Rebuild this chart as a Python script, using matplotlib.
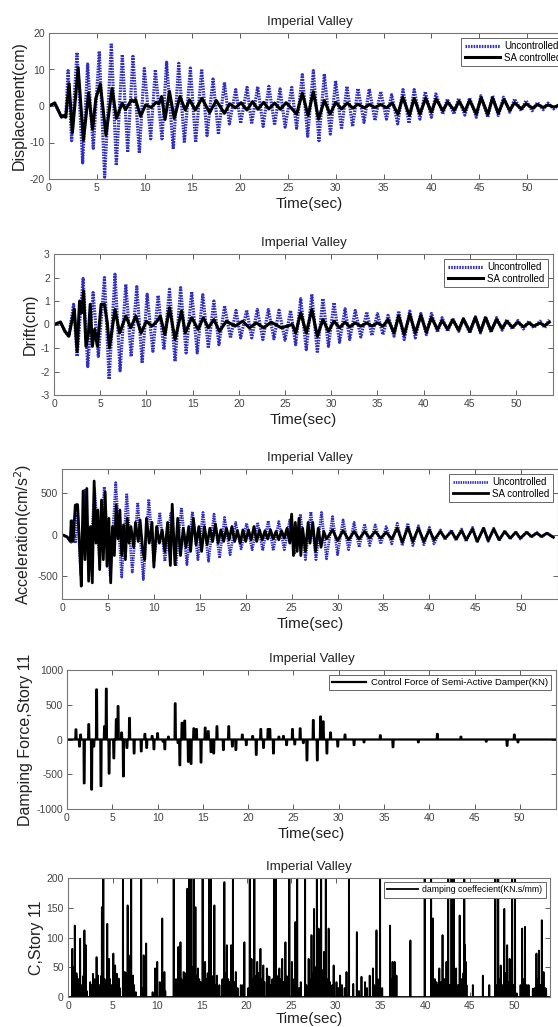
import numpy as np
import matplotlib
matplotlib.use("Agg")
import matplotlib.pyplot as plt

plt.rcParams['font.family'] = ['Liberation Sans', 'DejaVu Sans']
plt.rcParams['axes.unicode_minus'] = False

# ---- displacement (cm), peaks/troughs of the response ----
disp_unc_t = [0, 0.6, 1.3, 1.5, 1.75, 2.0, 2.37, 2.93, 3.52, 4.04, 4.63, 5.26, 5.82, 6.52, 7.04,
              7.67, 8.23, 8.78, 9.45, 9.97, 10.64, 11.12, 11.82, 12.3, 13.0, 13.57, 14.16, 14.79,
              15.34, 15.97, 16.53, 17.16, 17.72, 18.35, 18.87, 19.53, 20.05, 20.72, 21.2, 21.83,
              22.4, 23.0, 23.6, 24.17, 24.7, 25.39, 25.9, 26.5, 27.06, 27.65, 28.24, 28.8, 29.43,
              29.98, 30.6, 31.17, 31.76, 32.32, 32.95, 33.5, 34.1, 34.7, 35.3, 35.84, 36.47, 37.03,
              37.66, 38.2, 38.8, 39.36, 40.0, 40.47, 41.2, 41.66, 42.36, 42.85, 43.5, 44.0, 44.7,
              45.18, 45.9, 46.4, 47.0, 47.55, 48.2, 48.7, 49.4, 49.9, 50.55, 51.1, 51.7, 52.2,
              52.8, 53.4, 54.0]
disp_unc = [0, 0.8, -3.0, -2.7, -3.2, 9.7, -9.5, 14.7, -15.6, 11.5, -11.6, 15.0, -19.5, 17.2, -16.3,
            14.1, -12.7, 13.6, -12.9, 10.3, -9.0, 9.9, -9.0, 12.0, -11.8, 11.7, -10.1, 10.4,
            -10.0, 10.1, -8.1, 7.4, -7.7, 6.5, -4.9, 4.5, -4.7, 5.1, -4.9, 5.3,
            -5.6, 5.4, -5.2, 4.7, -5.8, 5.1, -6.1, 8.6, -8.3, 9.7, -9.5, 8.8, -7.7,
            6.9, -6.3, 5.4, -5.6, 4.8, -4.5, 4.7, -4.0, 4.0, -3.6, 3.1, -4.9, 4.5,
            -4.7, 4.5, -3.6, 3.9, -3.1, 3.3, -2.2, 1.9, -2.2, 2.1, -2.5, 2.2, -3.1,
            2.8, -3.1, 2.8, -2.6, 2.4, -1.7, 1.9, -1.3, 1.5, -1.3, 1.0, -1.0, 0.8,
            -0.8, 0.5, -0.5]

disp_sa_t = [0, 0.6, 1.3, 1.5, 1.75, 2.1, 2.45, 3.05, 3.6, 4.14, 4.56, 4.9, 5.37, 5.96, 6.6, 7.05,
             7.65, 8.0, 8.63, 8.85, 9.05, 9.58, 10.1, 10.7, 11.2, 11.5, 11.78, 12.14, 12.6, 13.1,
             13.7, 14.25, 14.7, 15.3, 16.0, 16.8, 17.5, 18.35, 18.9, 19.5, 20.1, 20.7, 21.3,
             21.85, 22.45, 23.0, 23.6, 24.2, 24.8, 25.35, 25.9, 26.5, 27.1, 27.65, 28.2, 28.8,
             29.4, 30.0, 30.6, 31.2, 31.8, 32.3, 33.0, 33.5, 34.1, 34.7, 35.3, 35.9, 36.5, 37.0,
             37.7, 38.2, 38.8, 39.4, 40.0, 40.5, 41.2, 41.7, 42.4, 42.9, 43.5, 44.0, 44.7, 45.2,
             45.9, 46.4, 47.0, 47.6, 48.2, 48.7, 49.4, 49.9, 50.6, 51.1, 51.7, 52.2, 52.8, 53.4,
             54.0]
disp_sa = [0, 0.8, -3.0, -2.6, -3.1, 6.1, -7.3, 10.5, -9.4, 3.6, -6.4, 2.1, 6.0, -8.0, 4.8, -3.4,
           0.8, -1.0, 1.7, 1.2, 1.8, -2.8, 0.3, -0.4, 1.0, 0.6, 2.6, -3.7, 4.0, -3.4,
           2.6, -1.1, 1.7, -1.1, 2.1, -1.8, 1.5, -2.0, 0.6, -0.5, 0.9, -1.1, 1.2,
           -0.9, 1.0, -0.8, 0.8, -0.9, 0.9, -0.6, -2.2, 3.5, -2.6, 3.9, -3.6, 1.5,
           -2.2, 1.0, -0.8, 0.8, -0.6, 0.5, -0.5, 0.4, -0.4, 0.4, -0.5, 0.8, -2.2, 2.4,
           -2.6, 2.1, -2.2, 2.1, -1.7, 1.9, -1.3, 1.1, -1.2, 1.3, -1.5, 1.6, -2.2, 2.3,
           -2.3, 2.2, -2.0, 1.8, -1.2, 0.9, -0.8, 0.6, -0.6, 0.4, -0.4, 0.3, -0.3, 0.2,
           -0.2]

# ---- inter-storey drift (cm) ----
drift_unc_t = [0, 0.7, 1.2, 1.6, 2.12, 2.5, 3.15, 3.65, 4.23, 4.8, 5.46, 5.96, 6.6, 7.15, 7.77,
               8.35, 8.96, 9.54, 10.08, 10.7, 11.27, 11.9, 12.5, 13.1, 13.7, 14.3, 14.9, 15.5,
               16.1, 16.7, 17.3, 17.85, 18.46, 19.1, 19.7, 20.2, 20.85, 21.4, 22.0, 22.6, 23.2,
               23.8, 24.35, 25.0, 25.6, 26.15, 26.7, 27.3, 27.9, 28.5, 29.1, 29.7, 30.3, 30.9,
               31.5, 32.0, 32.6, 33.2, 33.85, 34.4, 35.0, 35.6, 36.15, 36.8, 37.3, 37.9, 38.5,
               39.1, 39.7, 40.3, 40.85, 41.5, 42.0, 42.6, 43.15, 43.8, 44.3, 45.0, 45.6, 46.15,
               46.7, 47.3, 47.9, 48.5, 49.0, 49.6, 50.2, 50.8, 51.4, 51.9, 52.6, 53.1, 53.6]
drift_unc = [0, 0.1, -0.3, -0.5, 0.86, -1.36, 1.96, -1.79, 1.36, -1.36, 2.0, -2.33, 2.14, -1.97, 1.71,
             -1.36, 1.61, -1.64, 1.29, -1.14, 1.24, -1.07, 1.5, -1.57, 1.57, -1.21, 1.39, -1.21,
             1.27, -1.0, 1.0, -0.86, 0.79, -0.57, 0.6, -0.57, 0.61, -0.57, 0.64, -0.64, 0.64,
             -0.61, 0.61, -0.67, 0.6, -0.86, 1.1, -1.07, 1.29, -1.21, 1.1, -0.93, 0.93, -0.76,
             0.67, -0.64, 0.6, -0.53, 0.53, -0.47, 0.46, -0.43, 0.39, -0.5, 0.57, -0.64, 0.57,
             -0.57, 0.47, -0.43, 0.47, -0.33, 0.29, -0.29, 0.26, -0.29, 0.24, -0.36, 0.33, -0.36,
             0.33, -0.33, 0.29, -0.24, 0.21, -0.19, 0.17, -0.19, 0.14, -0.14, 0.14, -0.14, 0.2]

drift_sa_t = [0, 0.7, 1.2, 1.6, 2.2, 2.5, 2.77, 3.0, 3.2, 3.46, 3.73, 3.92, 4.15, 4.4, 4.7, 5.1,
              5.46, 5.77, 6.0, 6.6, 7.1, 7.77, 8.3, 8.85, 9.42, 10.0, 10.6, 11.15, 11.5, 12.0,
              12.5, 13.1, 13.8, 14.2, 14.9, 15.6, 16.15, 16.7, 17.3, 17.9, 18.65, 19.6, 20.4,
              21.15, 21.9, 22.7, 23.5, 24.6, 25.8, 26.15, 26.7, 27.3, 27.9, 28.5, 29.1, 29.7,
              30.3, 30.9, 31.5, 32.0, 32.6, 33.2, 33.85, 34.4, 35.0, 35.6, 36.15, 36.8, 37.3,
              37.9, 38.5, 39.1, 39.7, 40.3, 40.85, 41.5, 42.0, 42.6, 43.15, 43.8, 44.3, 45.0,
              45.6, 46.15, 46.7, 47.3, 47.9, 48.5, 49.0, 49.6, 50.2, 50.8, 51.4, 51.9, 52.6,
              53.1, 53.6]
drift_sa = [0, 0.1, -0.3, -0.5, 0.65, -1.15, 1.0, 0.5, 1.43, -0.93, -0.36, 0.86, -0.93, -0.2, -0.93, 0.86,
            0.86, 0.07, -1.0, 0.64, -0.36, 0.36, -0.14, 0.36, -0.36, 0.14, -0.07, 0.14, 0.36, -0.43,
            0.71, -0.64, 0.57, -0.36, 0.29, -0.21, 0.29, -0.14, 0.21, -0.29, 0.14, -0.07, 0.14,
            -0.14, 0.07, -0.14, 0.1, -0.14, 0.0, -0.36, 0.5, -0.36, 0.64, -0.5, 0.21, -0.29,
            0.14, -0.14, 0.1, -0.1, 0.07, -0.07, 0.07, -0.07, 0.07, -0.07, 0.21, -0.36, 0.36,
            -0.43, 0.43, -0.36, 0.39, -0.33, 0.29, -0.21, 0.17, -0.2, 0.2, -0.24, 0.24, -0.3,
            0.3, -0.3, 0.29, -0.27, 0.21, -0.17, 0.14, -0.12, 0.1, -0.1, 0.07, -0.07, 0.06,
            -0.05, 0.1]

# ---- absolute acceleration (cm/s^2) ----
acc_unc_t = [0, 0.6, 1.0, 1.2, 1.45, 1.65, 2.05, 2.5, 3.0, 3.55, 4.1, 4.6, 5.25, 5.85, 6.5, 7.05,
             7.65, 8.25, 8.85, 9.45, 10.0, 10.65, 11.2, 11.85, 12.4, 13.0, 13.6, 14.2, 14.8, 15.35,
             15.95, 16.55, 17.15, 17.7, 18.3, 18.9, 19.5, 20.1, 20.7, 21.3, 21.85, 22.45, 23.0,
             23.6, 24.2, 24.8, 25.35, 25.95, 26.5, 27.1, 27.65, 28.25, 28.8, 29.45, 30.0, 30.6,
             31.2, 31.8, 32.35, 32.95, 33.5, 34.1, 34.7, 35.3, 35.9, 36.5, 37.05, 37.65, 38.2,
             38.8, 39.4, 40.0, 40.5, 41.2, 41.7, 42.4, 42.9, 43.5, 44.0, 44.7, 45.2, 45.9, 46.4,
             47.0, 47.6, 48.2, 48.8, 49.4, 49.9, 50.6, 51.1, 51.7, 52.2, 52.8, 53.5]
acc_unc = [0, -30, -90, 170, -100, 370, -480, 540, -420, 560, -320, 580, -500, 630, -510, 500,
           -450, 390, -540, 430, -320, 270, -320, 260, -380, 330, -360, 280, -300, 270,
           -320, 250, -280, 210, -240, 150, -170, 140, -180, 150, -190, 170, -190,
           160, -180, 180, -220, 250, -300, 280, -300, 270, -290, 220, -240, 180,
           -180, 150, -150, 130, -130, 120, -110, 100, -110, 140, -130, 140, -130,
           110, -120, 90, -110, 60, -60, 60, -70, 70, -80, 90, -90, 90, -80,
           80, -70, 50, -50, 40, -50, 40, -30, 30, -30, 20, -30]

acc_sa_t = [0, 0.3, 0.6, 0.9, 1.0, 1.2, 1.45, 1.7, 1.9, 2.1, 2.3, 2.5, 2.7, 2.9, 3.1, 3.3, 3.5,
            3.7, 3.9, 4.1, 4.3, 4.5, 4.7, 4.9, 5.1, 5.3, 5.5, 5.7, 5.9, 6.1, 6.3, 6.5, 6.7, 6.9,
            7.1, 7.3, 7.5, 7.8, 8.0, 8.3, 8.5, 8.8, 9.0, 9.2, 9.5, 9.8, 10.0, 10.3, 10.6, 10.9,
            11.2, 11.5, 11.8, 12.0, 12.3, 12.6, 12.9, 13.2, 13.5, 13.8, 14.0, 14.3, 14.6, 14.9,
            15.2, 15.5, 15.8, 16.1, 16.4, 16.7, 17.0, 17.3, 17.6, 17.9, 18.2, 18.5, 18.8, 19.1,
            19.4, 19.7, 20.0, 20.3, 20.6, 20.9, 21.2, 21.5, 21.8, 22.1, 22.4, 22.7, 23.0, 23.3,
            23.6, 23.9, 24.2, 24.5, 24.8, 25.0, 25.2, 25.4, 25.6, 25.8, 26.0, 26.2, 26.5, 26.8,
            27.0, 27.3, 27.6, 27.9, 28.2, 28.5, 28.8, 29.45, 30.0, 30.6, 31.2, 31.8, 32.35,
            32.95, 33.5, 34.1, 34.7, 35.3, 35.9, 36.5, 37.05, 37.65, 38.2, 38.8, 39.4, 40.0,
            40.5, 41.2, 41.7, 42.4, 42.9, 43.5, 44.0, 44.7, 45.2, 45.9, 46.4, 47.0, 47.6, 48.2,
            48.8, 49.4, 49.9, 50.6, 51.1, 51.7, 52.2, 52.8, 53.5]
acc_sa = [0, -10, -30, -80, 170, -80, 360, 360, -100, -620, 530, -300, 560, -560, 100, -580, 650,
          -100, 300, -420, 420, -300, 520, -380, 200, -580, 100, -250, 360, -50, 300, -250, 120, -300,
          200, -100, 100, -150, 150, -80, 180, -200, -300, 200, -100, 150, -390, 100, -100, 60,
          -200, 150, -370, 370, -360, 200, -250, 80, -150, 100, -200, 200, -120, 100,
          -200, 100, -120, 80, -80, 130, -100, 60, -80, 80, -60, 100, -80, 50,
          -100, 60, -80, 60, -60, 100, -80, 60, -60, 50, -50, 60, -50, 40,
          -60, 50, -40, 80, -100, 250, -250, 150, -200, 200, -250, 80, -200, 150,
          -100, 150, -200, 80, -150, 40, -50, 60, -70, 50, -60, 40, -50,
          40, -40, 40, -40, 30, -50, 80, -90, 90, -80, 80, -80, 60,
          -60, 40, -40, 40, -50, 50, -60, 70, -80, 80, -70, 70, -60, 40,
          -40, 30, -40, 30, -20, 20, -20, 20, -30]

# ---- damper force pulses (kN) ----
force_t = [0.99, 1.38, 1.5, 1.9, 2.4, 2.72, 2.96, 3.27, 3.75, 4.14, 4.34, 4.65, 5.17, 5.44, 5.64,
           6.03, 6.23, 6.62, 6.9, 7.41, 8.2, 8.6, 8.8, 9.4, 9.6, 10.0, 10.6, 10.8, 11.2, 11.95,
           12.26, 12.46, 12.7, 13.0, 13.4, 13.7, 14.0, 14.3, 14.8, 15.26, 15.6, 15.9, 16.2,
           16.56, 17.27, 17.86, 18.26, 18.65, 19.36, 19.8, 20.5, 20.9, 21.4, 21.7, 22.2, 22.4,
           22.8, 23.4, 23.9, 24.25, 24.9, 25.15, 25.75, 26.1, 26.5, 27.2, 27.64, 28.0, 28.3,
           28.7, 29.1, 29.9, 30.7, 31.7, 32.8, 34.6, 36.0, 38.8, 40.9, 43.5, 46.3, 48.6, 49.4,
           49.8]
force_v = [145, -100, 70, -630, 220, -720, -100, 720, -670, 190, 730, -490, -270, 290, 480,
           100, -530, -120, 310, -200, -170, 80, -120, 50, -140, 90, -30, -140, 40, 520,
           -50, -370, 240, 270, -320, -350, 160, 150, -330, 170, 120, -180, -200,
           190, -150, 190, -100, -150, 70, -80, 50, -220, 150, -120, 150, 150,
           -200, 40, 50, -80, 150, -70, 160, -50, -300, 280, -300, 330, 260,
           -200, 100, -100, 70, -80, -40, 60, -110, -40, 80, 40, -30, -90, 70,
           -40]

# ---- damping coefficient spikes (kN.s/mm); 250 marks spikes above the axis ----
coef_t = [0.48, 0.76, 1.0, 1.36, 1.6, 1.84, 2.0, 2.48, 2.8, 3.08, 3.2, 3.36, 3.8, 3.96, 4.2, 4.4,
          4.6, 5.08, 5.28, 5.48, 5.68, 6.16, 6.36, 6.68, 6.8, 7.08, 7.28, 7.6, 8.2, 8.48, 8.76,
          9.48, 9.76, 10.0, 10.28, 10.56, 10.8, 11.84, 12.36, 12.6, 12.96, 13.36, 13.6, 13.8,
          14.08, 14.28, 14.56, 15.08, 15.36, 15.8, 16.0, 16.4, 16.68, 16.96, 17.52, 17.8, 18.28,
          18.48, 18.8, 19.36, 19.76, 20.36, 20.56, 20.88, 21.2, 21.56, 21.88, 22.28, 22.56,
          23.08, 23.28, 23.68, 24.0, 24.36, 24.8, 25.08, 25.48, 25.68, 26.08, 26.56, 26.96,
          27.28, 27.56, 27.88, 28.08, 28.36, 28.68, 28.88, 29.2, 29.76, 30.08, 30.48, 31.2,
          31.48, 31.96, 32.36, 32.88, 33.28, 33.8, 34.16, 34.56, 34.96, 36.08, 36.36, 36.6,
          36.8, 38.36, 39.96, 40.68, 40.88, 41.28, 41.6, 41.96, 42.4, 42.6, 42.96, 43.2, 43.48,
          43.88, 44.4, 44.48, 44.56, 45.36, 46.48, 47.2, 47.88, 48.2, 48.48, 48.88, 49.2, 49.48,
          49.76, 50.08, 50.28, 50.88, 51.2, 51.6, 52.08, 52.48, 52.76, 53.08, 53.28, 53.56]
coef_v = [81, 120, 34, 98, 14, 112, 87, 25, 39, 25, 67, 36, 151, 250, 25, 123,
          64, 73, 53, 39, 31, 250, 42, 154, 70, 250, 36, 8, 250, 70, 90,
          8, 48, 59, 25, 132, 42, 250, 84, 92, 42, 182, 250, 250,
          250, 151, 48, 250, 59, 250, 250, 154, 36, 20, 193, 87, 87,
          250, 42, 20, 92, 250, 64, 250, 59, 81, 53, 48, 34,
          250, 250, 48, 64, 92, 250, 59, 126, 250, 25, 250, 64,
          104, 148, 250, 115, 250, 76, 250, 115, 53, 25, 36, 42,
          250, 22, 109, 34, 25, 36, 48, 112, 250, 120, 59, 59,
          36, 95, 250, 250, 132, 25, 48, 104, 59, 250, 250, 250, 48,
          137, 250, 87, 59, 20, 36, 20, 250, 250, 53, 148, 87, 64,
          250, 250, 6, 115, 118, 20, 14, 73, 78, 129, 42, 14]
coef_low_t = [0.55, 0.65, 0.85, 0.95, 1.1, 1.2, 1.45, 1.7, 1.95, 2.1, 2.6, 2.95, 3.5, 3.7, 3.85,
              4.1, 4.5, 4.7, 4.9, 5.2, 5.6, 5.8, 6.3, 6.5, 6.9, 7.2, 7.4, 8.3, 8.6, 9.9, 10.4,
              10.7, 10.9, 11.9, 12.1, 12.45, 12.7, 12.85, 13.1, 13.25, 13.5, 13.7, 13.95, 14.15,
              14.4, 14.7, 14.85, 15.2, 15.5, 15.65, 15.9, 16.15, 16.3, 16.55, 16.8, 17.3, 17.65,
              17.95, 18.1, 18.35, 18.65, 19.0, 19.6, 20.2, 20.45, 20.7, 21.0, 21.35, 21.7, 22.0,
              22.4, 22.7, 22.9, 23.2, 23.45, 23.8, 24.15, 24.5, 24.65, 25.2, 25.35, 25.9, 26.7,
              27.1, 27.4, 27.7, 28.0, 28.2, 28.5, 28.75, 29.0, 29.35, 29.6, 30.3, 30.7, 31.0,
              32.6, 33.5, 34.3, 34.7, 35.2, 36.2, 36.5, 36.7, 40.8, 41.1, 41.4, 41.8, 42.2,
              42.75, 43.05, 43.35, 43.7, 44.1, 44.3, 44.65, 47.95, 48.35, 48.65, 49.05, 49.35,
              49.6, 49.9, 50.7, 51.05, 51.4, 52.3, 52.6, 52.9, 53.2, 53.45]
coef_low_v = [30, 50, 25, 40, 15, 30, 20, 35, 20, 10, 20, 30, 20, 35, 20,
              30, 40, 30, 20, 35, 25, 15, 20, 40, 30, 35, 20, 15, 20, 10, 15,
              20, 10, 20, 30, 40, 30, 20, 40, 30, 45, 35, 50, 40,
              35, 30, 25, 35, 30, 40, 30, 35, 25, 20, 15, 30, 40,
              30, 25, 30, 25, 15, 20, 15, 25, 30, 35, 40, 30, 25,
              35, 20, 30, 40, 35, 30, 25, 35, 20, 30, 20, 15, 20,
              30, 40, 50, 40, 30, 45, 35, 30, 25, 20, 15, 20, 15,
              10, 15, 20, 30, 15, 30, 25, 20, 20, 30, 20, 25, 30,
              20, 30, 25, 20, 30, 40, 20, 20, 30, 20, 40, 25,
              30, 20, 20, 30, 20, 15, 30, 20, 35, 15]

W, H = 558, 1027
BLUE = '#3030c0'
TITLE = 'Imperial Valley'


def box(left, right, top, bottom):
    return [left / W, 1 - bottom / H, (right - left) / W, (bottom - top) / H]


def pulses(t, v, w):
    # each pulse rises from zero, holds briefly and falls back
    xs, ys = [0.0], [0.0]
    for ti, vi in zip(t, v):
        xs += [ti - w, ti - w / 2, ti + w / 2, ti + w]
        ys += [0, vi, vi, 0]
    xs.append(54.0)
    ys.append(0.0)
    return np.array(xs), np.array(ys)


def style(ax, ylabel, ylim, yticks, xmax=54, labelpad=3):
    ax.set_xlim(0, xmax)
    ax.set_ylim(*ylim)
    ax.set_xticks(np.arange(0, 55, 5))
    ax.set_yticks(yticks)
    ax.tick_params(direction='in', top=True, right=True, length=3.5, width=0.6,
                   labelsize=7.5, colors='#444444', pad=3)
    for s in ax.spines.values():
        s.set_color('#777777')
        s.set_linewidth(0.8)
    ax.set_title(TITLE, fontsize=9.5, color='#222222', pad=6)
    ax.set_xlabel('Time(sec)', fontsize=11, color='#222222', labelpad=labelpad)
    ax.set_ylabel(ylabel, fontsize=11.5, color='#222222', labelpad=2)


def legend(ax, size=7):
    lg = ax.legend(loc='upper right', fontsize=size, fancybox=False, framealpha=1,
                   edgecolor='#666666', handlelength=3.6, borderpad=0.35,
                   labelspacing=0.15, handletextpad=0.5, borderaxespad=0.5)
    lg.get_frame().set_linewidth(0.7)


fig = plt.figure(figsize=(W / 100, H / 100), dpi=100)
dots = (0, (0.5, 0.35))

# top panel runs past the right edge of the page
ax1 = fig.add_axes(box(49, 570, 33, 179))
ax1.plot(disp_unc_t, disp_unc, color=BLUE, lw=2.3, ls=dots, label='Uncontrolled')
ax1.plot(disp_sa_t, disp_sa, color='black', lw=2.2, label='SA controlled')
style(ax1, 'Displacement(cm)', (-20, 20), [-20, -10, 0, 10, 20], xmax=54.5)
legend(ax1)

ax2 = fig.add_axes(box(54, 553, 254, 395))
ax2.plot(drift_unc_t, drift_unc, color=BLUE, lw=2.3, ls=dots, label='Uncontrolled')
ax2.plot(drift_sa_t, drift_sa, color='black', lw=2.2, label='SA controlled')
style(ax2, 'Drift(cm)', (-3, 3), [-3, -2, -1, 0, 1, 2, 3])
legend(ax2)

ax3 = fig.add_axes(box(62, 558, 469, 599))
ax3.plot(acc_unc_t, acc_unc, color=BLUE, lw=2.0, ls=dots, label='Uncontrolled')
ax3.plot(acc_sa_t, acc_sa, color='black', lw=2.0, label='SA controlled')
style(ax3, 'Acceleration(cm/s$^2$)', (-775, 795), [-500, 0, 500])
legend(ax3)

ax4 = fig.add_axes(box(67, 556, 670, 809))
fx, fy = pulses(force_t, force_v, 0.07)
ax4.plot(fx, fy, color='black', lw=1.6, label='Control Force of Semi-Active Damper(KN)')
style(ax4, 'Damping Force,Story 11', (-1000, 1000), [-1000, -500, 0, 500, 1000])
legend(ax4, 6.8)

ax5 = fig.add_axes(box(68, 550, 878, 997))
ct = np.array(coef_t + coef_low_t)
cv = np.array(coef_v + coef_low_v)
order = np.argsort(ct)
cx, cy = pulses(ct[order], cv[order], 0.02)
ax5.plot(cx, cy, color='black', lw=1.3, label='damping coeffecient(KN.s/mm)')
style(ax5, 'C,Story 11', (0, 200), [0, 50, 100, 150, 200], labelpad=0.5)
legend(ax5, 6.3)

fig.savefig('out.png', dpi=100)
